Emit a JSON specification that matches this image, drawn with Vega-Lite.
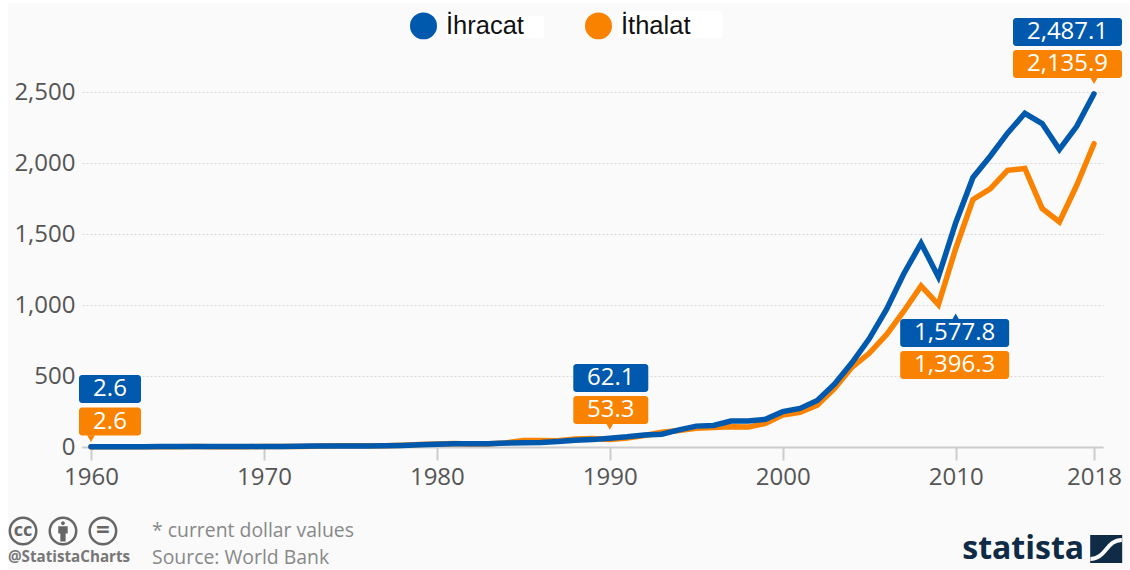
{"$schema":"https://vega.github.io/schema/vega-lite/v6.json","autosize":{"type":"none"},"width":1021,"height":355,"padding":{"left":82,"top":92,"right":27,"bottom":123},"background":"#fafafa","config":{"view":{"stroke":null},"font":"Open Sans"},
"datasets":{"trade":[
{"year":1960,"series":"İthalat","value":2.6},{"year":1961,"series":"İthalat","value":2.1},{"year":1962,"series":"İthalat","value":1.8},{"year":1963,"series":"İthalat","value":1.8},{"year":1964,"series":"İthalat","value":2.0},{"year":1965,"series":"İthalat","value":2.6},{"year":1966,"series":"İthalat","value":3.0},{"year":1967,"series":"İthalat","value":2.6},{"year":1968,"series":"İthalat","value":2.4},{"year":1969,"series":"İthalat","value":2.3},{"year":1970,"series":"İthalat","value":3.0},{"year":1971,"series":"İthalat","value":3.1},{"year":1972,"series":"İthalat","value":3.6},{"year":1973,"series":"İthalat","value":6.0},{"year":1974,"series":"İthalat","value":8.7},{"year":1975,"series":"İthalat","value":9.0},{"year":1976,"series":"İthalat","value":8.0},{"year":1977,"series":"İthalat","value":8.4},{"year":1978,"series":"İthalat","value":12},{"year":1979,"series":"İthalat","value":18},{"year":1980,"series":"İthalat","value":22},{"year":1981,"series":"İthalat","value":24},{"year":1982,"series":"İthalat","value":21},{"year":1983,"series":"İthalat","value":23},{"year":1984,"series":"İthalat","value":29},{"year":1985,"series":"İthalat","value":45},{"year":1986,"series":"İthalat","value":45},{"year":1987,"series":"İthalat","value":44},{"year":1988,"series":"İthalat","value":56},{"year":1989,"series":"İthalat","value":60},{"year":1990,"series":"İthalat","value":53.3},{"year":1991,"series":"İthalat","value":64},{"year":1992,"series":"İthalat","value":81},{"year":1993,"series":"İthalat","value":104},{"year":1994,"series":"İthalat","value":116},{"year":1995,"series":"İthalat","value":132},{"year":1996,"series":"İthalat","value":138},{"year":1997,"series":"İthalat","value":142},{"year":1998,"series":"İthalat","value":140},{"year":1999,"series":"İthalat","value":166},{"year":2000,"series":"İthalat","value":225},{"year":2001,"series":"İthalat","value":244},{"year":2002,"series":"İthalat","value":295},{"year":2003,"series":"İthalat","value":413},{"year":2004,"series":"İthalat","value":561},{"year":2005,"series":"İthalat","value":660},{"year":2006,"series":"İthalat","value":791},{"year":2007,"series":"İthalat","value":956},{"year":2008,"series":"İthalat","value":1134},{"year":2009,"series":"İthalat","value":1003},{"year":2010,"series":"İthalat","value":1396.3},{"year":2011,"series":"İthalat","value":1743},{"year":2012,"series":"İthalat","value":1818},{"year":2013,"series":"İthalat","value":1948},{"year":2014,"series":"İthalat","value":1962},{"year":2015,"series":"İthalat","value":1680},{"year":2016,"series":"İthalat","value":1585},{"year":2017,"series":"İthalat","value":1843},{"year":2018,"series":"İthalat","value":2135.9},
{"year":1960,"series":"İhracat","value":2.6},{"year":1961,"series":"İhracat","value":2.1},{"year":1962,"series":"İhracat","value":2.1},{"year":1963,"series":"İhracat","value":2.3},{"year":1964,"series":"İhracat","value":2.7},{"year":1965,"series":"İhracat","value":3.1},{"year":1966,"series":"İhracat","value":3.3},{"year":1967,"series":"İhracat","value":2.9},{"year":1968,"series":"İhracat","value":2.8},{"year":1969,"series":"İhracat","value":3.0},{"year":1970,"series":"İhracat","value":3.2},{"year":1971,"series":"İhracat","value":3.6},{"year":1972,"series":"İhracat","value":4.5},{"year":1973,"series":"İhracat","value":6.9},{"year":1974,"series":"İhracat","value":7.5},{"year":1975,"series":"İhracat","value":7.6},{"year":1976,"series":"İhracat","value":7.8},{"year":1977,"series":"İhracat","value":8.5},{"year":1978,"series":"İhracat","value":11},{"year":1979,"series":"İhracat","value":15},{"year":1980,"series":"İhracat","value":19},{"year":1981,"series":"İhracat","value":23},{"year":1982,"series":"İhracat","value":23},{"year":1983,"series":"İhracat","value":23},{"year":1984,"series":"İhracat","value":28},{"year":1985,"series":"İhracat","value":30},{"year":1986,"series":"İhracat","value":32},{"year":1987,"series":"İhracat","value":39},{"year":1988,"series":"İhracat","value":48},{"year":1989,"series":"İhracat","value":52},{"year":1990,"series":"İhracat","value":62.1},{"year":1991,"series":"İhracat","value":72},{"year":1992,"series":"İhracat","value":85},{"year":1993,"series":"İhracat","value":90},{"year":1994,"series":"İhracat","value":121},{"year":1995,"series":"İhracat","value":147},{"year":1996,"series":"İhracat","value":152},{"year":1997,"series":"İhracat","value":183},{"year":1998,"series":"İhracat","value":183},{"year":1999,"series":"İhracat","value":195},{"year":2000,"series":"İhracat","value":249},{"year":2001,"series":"İhracat","value":272},{"year":2002,"series":"İhracat","value":328},{"year":2003,"series":"İhracat","value":444},{"year":2004,"series":"İhracat","value":593},{"year":2005,"series":"İhracat","value":762},{"year":2006,"series":"İhracat","value":969},{"year":2007,"series":"İhracat","value":1220},{"year":2008,"series":"İhracat","value":1435},{"year":2009,"series":"İhracat","value":1198},{"year":2010,"series":"İhracat","value":1577.8},{"year":2011,"series":"İhracat","value":1898},{"year":2012,"series":"İhracat","value":2048},{"year":2013,"series":"İhracat","value":2210},{"year":2014,"series":"İhracat","value":2350},{"year":2015,"series":"İhracat","value":2278},{"year":2016,"series":"İhracat","value":2095},{"year":2017,"series":"İhracat","value":2258},{"year":2018,"series":"İhracat","value":2487.1}]},
"data":{"name":"trade"},
"encoding":{"x":{"field":"year","type":"quantitative","scale":{"domain":[1959.48,2018.52],"nice":false,"zero":false},"axis":{"values":[1960,1970,1980,1990,2000,2010,2018],"format":"d","title":null,"grid":false,"domainColor":"#cccccc","domainWidth":2,"tickColor":"#cccccc","tickWidth":2,"tickSize":13,"labelFontSize":24,"labelColor":"#555555","labelPadding":5,"labelFont":"Open Sans"}},"y":{"field":"value","type":"quantitative","scale":{"domain":[0,2500],"nice":false},"axis":{"values":[0,500,1000,1500,2000,2500],"format":",d","title":null,"domain":false,"ticks":false,"grid":true,"gridColor":"#d8d8d8","gridDash":[2,2],"gridWidth":1,"labelFontSize":24,"labelColor":"#555555","labelPadding":7,"labelFont":"Open Sans"}}},
"layer":[
{"mark":{"type":"rect","fill":"#ffffff"},"encoding":{"x":{"datum":1950,"type":"quantitative"},"x2":{"datum":1955.2},"y":{"datum":3300,"type":"quantitative"},"y2":{"datum":-900}}},
{"mark":{"type":"rect","fill":"#ffffff"},"encoding":{"x":{"datum":1950,"type":"quantitative"},"x2":{"datum":2025},"y":{"datum":3300,"type":"quantitative"},"y2":{"datum":3126}}},
{"mark":{"type":"rect","fill":"#ffffff"},"encoding":{"x":{"datum":1980.59,"type":"quantitative"},"x2":{"datum":1986.2},"y":{"datum":3035,"type":"quantitative"},"y2":{"datum":2880}}},
{"mark":{"type":"rect","fill":"#ffffff"},"encoding":{"x":{"datum":1990.48,"type":"quantitative"},"x2":{"datum":1996.5},"y":{"datum":3070,"type":"quantitative"},"y2":{"datum":2880}}},
{"mark":{"type":"line","strokeWidth":5.5,"strokeCap":"round","strokeJoin":"miter"},"encoding":{"color":{"field":"series","type":"nominal","sort":null,"scale":{"domain":["İhracat","İthalat"],"range":["#0059ad","#f98300"]},"legend":{"orient":"none","legendX":328,"legendY":-80,"direction":"horizontal","title":null,"symbolType":"circle","symbolSize":182,"symbolStrokeWidth":13.5,"labelFont":"Liberation Sans","labelFontSize":25.5,"labelColor":"#111111","labelOffset":9,"columnPadding":40,"columns":2,"labelLimit":200}},"order":{"field":"year"}}},
{"transform":[{"filter":"datum.year==1960&&datum.series=='İhracat'"}],"mark":{"type":"rect","fill":"#0059ad","cornerRadius":3,"width":62,"height":28,"xOffset":19,"yOffset":-57.6}},
{"transform":[{"filter":"datum.year==1960&&datum.series=='İthalat'"}],"mark":{"type":"rect","fill":"#f98300","cornerRadius":3,"width":62,"height":28,"xOffset":19,"yOffset":-25.1}},
{"transform":[{"filter":"datum.year==1960&&datum.series=='İthalat'"}],"mark":{"type":"point","filled":true,"shape":"triangle-down","size":60,"fill":"#f98300","opacity":1,"yOffset":-8}},
{"transform":[{"filter":"datum.year==1990&&datum.series=='İhracat'"}],"mark":{"type":"rect","fill":"#0059ad","cornerRadius":3,"width":75,"height":28,"xOffset":1,"yOffset":-60.2}},
{"transform":[{"filter":"datum.year==1990&&datum.series=='İthalat'"}],"mark":{"type":"rect","fill":"#f98300","cornerRadius":3,"width":75,"height":28,"xOffset":1,"yOffset":-29.4}},
{"transform":[{"filter":"datum.year==1990&&datum.series=='İthalat'"}],"mark":{"type":"point","filled":true,"shape":"triangle-down","size":60,"fill":"#f98300","opacity":1,"yOffset":-13}},
{"transform":[{"filter":"datum.year==2010&&datum.series=='İhracat'"}],"mark":{"type":"rect","fill":"#0059ad","cornerRadius":3,"width":109,"height":28,"xOffset":-1,"yOffset":110}},
{"transform":[{"filter":"datum.year==2010&&datum.series=='İthalat'"}],"mark":{"type":"rect","fill":"#f98300","cornerRadius":3,"width":109,"height":28,"xOffset":-1,"yOffset":116.3}},
{"transform":[{"filter":"datum.year==2010&&datum.series=='İhracat'"}],"mark":{"type":"point","filled":true,"shape":"triangle-up","size":60,"fill":"#0059ad","opacity":1,"yOffset":94}},
{"transform":[{"filter":"datum.year==2018&&datum.series=='İhracat'"}],"mark":{"type":"rect","fill":"#0059ad","cornerRadius":3,"width":109,"height":28,"xOffset":-26.5,"yOffset":-61.8}},
{"transform":[{"filter":"datum.year==2018&&datum.series=='İthalat'"}],"mark":{"type":"rect","fill":"#f98300","cornerRadius":3,"width":109,"height":28,"xOffset":-26.5,"yOffset":-79.7}},
{"transform":[{"filter":"datum.year==2018&&datum.series=='İthalat'"}],"mark":{"type":"point","filled":true,"shape":"triangle-down","size":60,"fill":"#f98300","opacity":1,"yOffset":-63}},
{"transform":[{"filter":"datum.year==1960&&datum.series=='İhracat'"}],"mark":{"type":"text","color":"#ffffff","fontSize":24,"fontWeight":500,"dx":19,"dy":-57.6},"encoding":{"text":{"field":"value","type":"quantitative","format":",.1f"}}},
{"transform":[{"filter":"datum.year==1960&&datum.series=='İthalat'"}],"mark":{"type":"text","color":"#ffffff","fontSize":24,"fontWeight":500,"dx":19,"dy":-25.1},"encoding":{"text":{"field":"value","type":"quantitative","format":",.1f"}}},
{"transform":[{"filter":"datum.year==1990&&datum.series=='İhracat'"}],"mark":{"type":"text","color":"#ffffff","fontSize":24,"fontWeight":500,"dx":1,"dy":-60.2},"encoding":{"text":{"field":"value","type":"quantitative","format":",.1f"}}},
{"transform":[{"filter":"datum.year==1990&&datum.series=='İthalat'"}],"mark":{"type":"text","color":"#ffffff","fontSize":24,"fontWeight":500,"dx":1,"dy":-29.4},"encoding":{"text":{"field":"value","type":"quantitative","format":",.1f"}}},
{"transform":[{"filter":"datum.year==2010&&datum.series=='İhracat'"}],"mark":{"type":"text","color":"#ffffff","fontSize":24,"fontWeight":500,"dx":-1,"dy":110},"encoding":{"text":{"field":"value","type":"quantitative","format":",.1f"}}},
{"transform":[{"filter":"datum.year==2010&&datum.series=='İthalat'"}],"mark":{"type":"text","color":"#ffffff","fontSize":24,"fontWeight":500,"dx":-1,"dy":116.3},"encoding":{"text":{"field":"value","type":"quantitative","format":",.1f"}}},
{"transform":[{"filter":"datum.year==2018&&datum.series=='İhracat'"}],"mark":{"type":"text","color":"#ffffff","fontSize":24,"fontWeight":500,"dx":-26.5,"dy":-61.8},"encoding":{"text":{"field":"value","type":"quantitative","format":",.1f"}}},
{"transform":[{"filter":"datum.year==2018&&datum.series=='İthalat'"}],"mark":{"type":"text","color":"#ffffff","fontSize":24,"fontWeight":500,"dx":-26.5,"dy":-79.7},"encoding":{"text":{"field":"value","type":"quantitative","format":",.1f"}}},
{"transform":[{"filter":"datum.year==1960&&datum.series=='İhracat'"}],"mark":{"type":"text","text":"* current dollar values","align":"left","baseline":"middle","fontSize":19.4,"color":"#888888"},"encoding":{"x":{"datum":1963.53,"type":"quantitative"},"y":{"datum":-591,"type":"quantitative"}}},
{"transform":[{"filter":"datum.year==1960&&datum.series=='İhracat'"}],"mark":{"type":"text","text":"Source: World Bank","align":"left","baseline":"middle","fontSize":19.4,"color":"#888888"},"encoding":{"x":{"datum":1963.53,"type":"quantitative"},"y":{"datum":-781,"type":"quantitative"}}},
{"transform":[{"filter":"datum.year==1960&&datum.series=='İhracat'"}],"mark":{"type":"text","text":"@StatistaCharts","align":"left","baseline":"middle","fontSize":15.2,"fontWeight":"bold","color":"#777777"},"encoding":{"x":{"datum":1955.2,"type":"quantitative"},"y":{"datum":-774.6,"type":"quantitative"}}},
{"transform":[{"filter":"datum.year==1960&&datum.series=='İhracat'"}],"mark":{"type":"point","shape":"circle","filled":false,"size":700,"stroke":"#666666","strokeWidth":2.5,"opacity":1},"encoding":{"x":{"datum":1956.07,"type":"quantitative"},"y":{"datum":-591.5,"type":"quantitative"}}},
{"transform":[{"filter":"datum.year==1960&&datum.series=='İhracat'"}],"mark":{"type":"point","shape":"circle","filled":false,"size":700,"stroke":"#666666","strokeWidth":2.5,"opacity":1},"encoding":{"x":{"datum":1958.38,"type":"quantitative"},"y":{"datum":-591.5,"type":"quantitative"}}},
{"transform":[{"filter":"datum.year==1960&&datum.series=='İhracat'"}],"mark":{"type":"point","shape":"circle","filled":false,"size":700,"stroke":"#666666","strokeWidth":2.5,"opacity":1},"encoding":{"x":{"datum":1960.69,"type":"quantitative"},"y":{"datum":-591.5,"type":"quantitative"}}},
{"transform":[{"filter":"datum.year==1960&&datum.series=='İhracat'"}],"mark":{"type":"text","text":"cc","fontSize":18,"fontWeight":"bold","color":"#666666","baseline":"middle"},"encoding":{"x":{"datum":1956.07,"type":"quantitative"},"y":{"datum":-591.5,"type":"quantitative"}}},
{"transform":[{"filter":"datum.year==1960&&datum.series=='İhracat'"}],"mark":{"type":"text","text":"=","fontSize":24,"fontWeight":"bold","color":"#666666","baseline":"middle"},"encoding":{"x":{"datum":1960.69,"type":"quantitative"},"y":{"datum":-591.5,"type":"quantitative"}}},
{"transform":[{"filter":"datum.year==1960&&datum.series=='İhracat'"}],"mark":{"type":"point","filled":true,"shape":"M-0.18,-0.75a0.18,0.18 0 1,0 0.36,0a0.18,0.18 0 1,0 -0.36,0M-0.45,-0.45H0.45V0.25H0.25V1H-0.25V0.25H-0.45Z","size":440,"fill":"#666666","opacity":1},"encoding":{"x":{"datum":1958.38,"type":"quantitative"},"y":{"datum":-591.5,"type":"quantitative"}}},
{"transform":[{"filter":"datum.year==1960&&datum.series=='İhracat'"}],"mark":{"type":"text","text":"statista","align":"left","baseline":"middle","fontSize":32,"fontWeight":"bold","font":"Open Sans","color":"#0f2b46"},"encoding":{"x":{"datum":2010.38,"type":"quantitative"},"y":{"datum":-718.3,"type":"quantitative"}}},
{"transform":[{"filter":"datum.year==1960&&datum.series=='İhracat'"}],"mark":{"type":"rect","fill":"#0f2b46"},"encoding":{"x":{"datum":2017.78,"type":"quantitative"},"x2":{"datum":2019.63},"y":{"datum":-619.7,"type":"quantitative"},"y2":{"datum":-816.9}}},
{"transform":[{"filter":"datum.year==1960&&datum.series=='İhracat'"}],"mark":{"type":"point","filled":false,"shape":"M-0.95,0.6C0,0.6 0,-0.55 0.95,-0.55","size":1100,"stroke":"#fafafa","strokeWidth":4,"opacity":1},"encoding":{"x":{"datum":2018.7,"type":"quantitative"},"y":{"datum":-718.3,"type":"quantitative"}}}
]}
